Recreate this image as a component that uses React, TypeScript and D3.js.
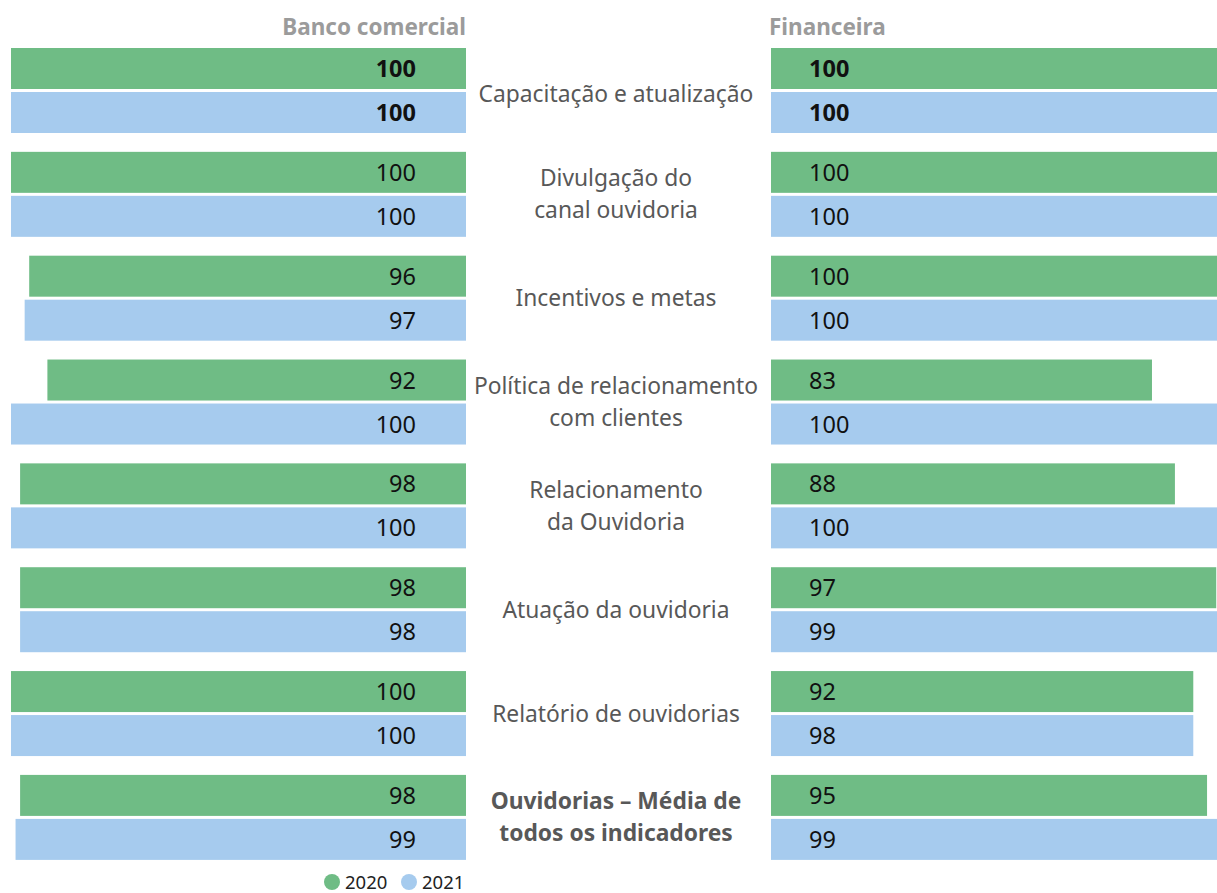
import React from "react";
import * as d3 from "d3";

const categories: string[][] = [
  ["Capacitação e atualização"],
  ["Divulgação do", "canal ouvidoria"],
  ["Incentivos e metas"],
  ["Política de relacionamento", "com clientes"],
  ["Relacionamento", "da Ouvidoria"],
  ["Atuação da ouvidoria"],
  ["Relatório de ouvidorias"],
  ["Ouvidorias – Média de", "todos os indicadores"],
];
const years = ["2020", "2021"];
const banco2020 = [100, 100, 96, 92, 98, 98, 100, 98];
const banco2021 = [100, 100, 97, 100, 100, 98, 100, 99];
const fin2020 = [100, 100, 100, 83, 88, 97, 92, 95];
// bar lengths as drawn in the source; labels as printed
const fin2021 = [100, 100, 100, 100, 100, 99, 92, 99];
const fin2021Labels = [100, 100, 100, 100, 100, 99, 98, 99];
const panelTitles = ["Banco comercial", "Financeira"];

const GREEN = "#6fbc85";
const BLUE = "#a6cbee";
const FONT = "'Noto Sans', 'Open Sans', sans-serif";

export default function App() {
  const W = 1217, H = 893;
  const idx = categories.map((_, i) => String(i));
  const yBand = d3.scaleBand<string>().domain(idx).range([48, 859.9]).paddingInner(0.1815).paddingOuter(0);
  const ySub = d3.scaleBand<string>().domain(years).range([0, yBand.bandwidth()]).paddingInner(3 / 44).paddingOuter(0);
  const xLeft = d3.scaleLinear().domain([0, 100]).range([466, 11]);
  const xRight = d3.scaleLinear().domain([0, 100]).range([771, 1230]);
  const colors = d3.scaleOrdinal<string, string>().domain(years).range([GREEN, BLUE]);

  const leftSeries = [banco2020, banco2021];
  const rightSeries = [fin2020, fin2021];
  const rightLabels = [fin2020, fin2021Labels];

  return (
    <svg width={W} height={H} style={{ position: "absolute", left: 0, top: 0, fontFamily: FONT }}>
      <text x={466} y={35} textAnchor="end" fontSize={22.5} fontWeight="bold" fill="#9b9b9b">{panelTitles[0]}</text>
      <text x={769} y={35} textAnchor="start" fontSize={22.5} fontWeight="bold" fill="#9b9b9b">{panelTitles[1]}</text>
      {categories.map((cat, i) => {
        const y0 = yBand(String(i))!;
        const cy = y0 + yBand.bandwidth() / 2 + (i === 0 ? 4 : 0);
        const bold = i === 0;
        const lastBold = i === categories.length - 1;
        return (
          <g key={i}>
            {years.map((yr, j) => {
              const y = y0 + ySub(yr)!;
              const h = ySub.bandwidth();
              const lv = leftSeries[j][i];
              const rv = rightSeries[j][i];
              return (
                <g key={yr}>
                  <rect x={xLeft(lv)} y={y} width={xLeft(0) - xLeft(lv)} height={h} fill={colors(yr)} />
                  <rect x={xRight(0)} y={y} width={xRight(rv) - xRight(0)} height={h} fill={colors(yr)} />
                  <text x={416} y={y + h / 2 + 8.5} textAnchor="end" fontSize={23.5} fontWeight={bold ? "bold" : "normal"} fill="#111">{leftSeries[j][i]}</text>
                  <text x={809} y={y + h / 2 + 8.5} textAnchor="start" fontSize={23.5} fontWeight={bold ? "bold" : "normal"} fill="#111">{rightLabels[j][i]}</text>
                </g>
              );
            })}
            {cat.map((line, k) => (
              <text key={k} x={616} y={cy + 8 + (k - (cat.length - 1) / 2) * 32} textAnchor="middle" fontSize={22.8}
                fontWeight={lastBold ? "bold" : "normal"} fill="#585858">{line}</text>
            ))}
          </g>
        );
      })}
      {years.map((yr, j) => (
        <g key={yr} transform={`translate(${332 + j * 77},882)`}>
          <circle r={8} fill={colors(yr)} />
          <text x={13} y={7} fontSize={18.5} fill="#222">{yr}</text>
        </g>
      ))}
    </svg>
  );
}
